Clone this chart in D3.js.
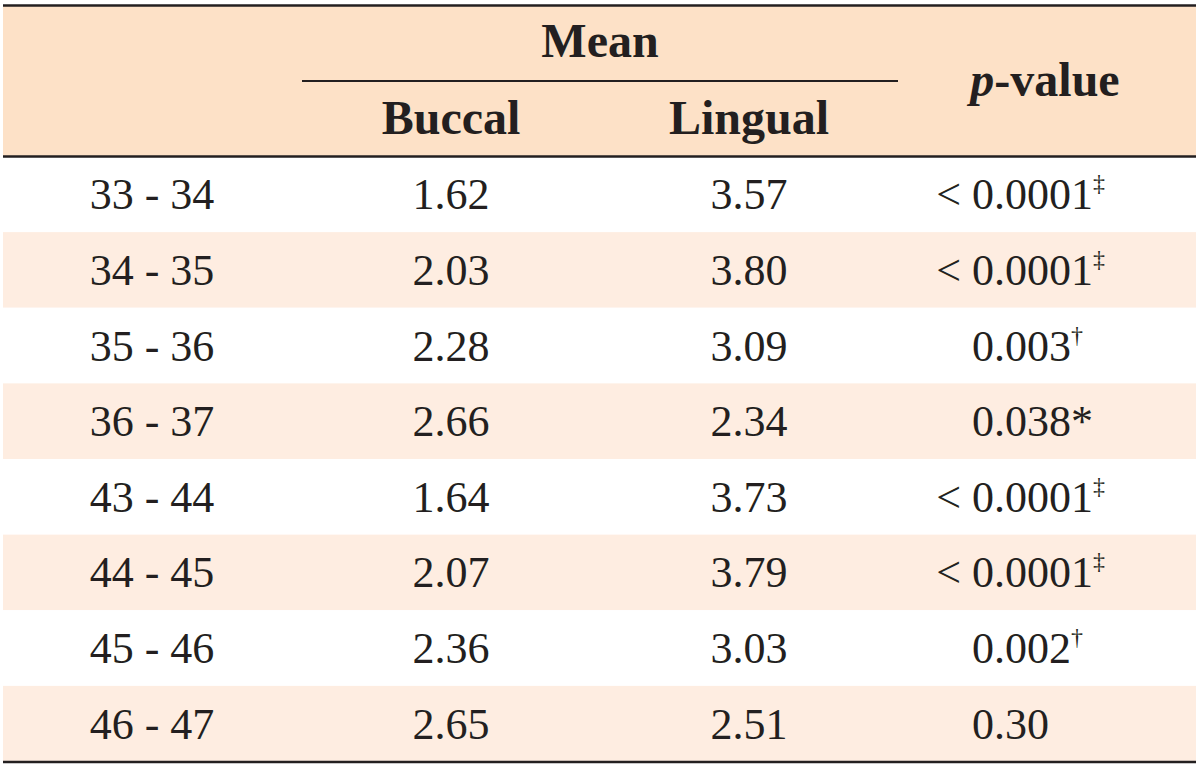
<!DOCTYPE html>
<html>
<head>
<meta charset="utf-8">
<script src="https://cdn.jsdelivr.net/npm/d3@7"></script>
<style>
  html, body { margin: 0; padding: 0; background: #ffffff; }
  svg { display: block; }
  text { font-family: "Liberation Serif", "Times New Roman", serif; fill: #231f20; }
</style>
</head>
<body>
<svg id="chart" width="1200" height="766"></svg>
<script>
// ---- data ----
const pairs   = ["33 - 34", "34 - 35", "35 - 36", "36 - 37", "43 - 44", "44 - 45", "45 - 46", "46 - 47"];
const buccal  = ["1.62", "2.03", "2.28", "2.66", "1.64", "2.07", "2.36", "2.65"];
const lingual = ["3.57", "3.80", "3.09", "2.34", "3.73", "3.79", "3.03", "2.51"];
const pPrefix = ["<", "<", "", "", "<", "<", "", ""];
const pValues = ["0.0001", "0.0001", "0.003", "0.038*", "0.0001", "0.0001", "0.002", "0.30"];
const pMarks  = ["\u2021", "\u2021", "\u2020", "", "\u2021", "\u2021", "\u2020", ""];
const headerGroup = "Mean";
const headerCols  = ["Buccal", "Lingual"];

// ---- layout ----
const left = 3, right = 1196;
const headTop = 5.5, headBottom = 156.5, tableBottom = 762;
const svg = d3.select("#chart");

const y = d3.scaleBand().domain(pairs).range([headBottom, tableBottom - 0.5]);
const colX = d3.scaleOrdinal().domain(["pair", "buccal", "lingual", "p"]).range([152, 451, 749, 972]);

// header background
svg.append("rect").attr("x", left).attr("y", headTop).attr("width", right - left)
   .attr("height", headBottom - headTop).attr("fill", "#fde1c7");

// alternating rows
svg.selectAll("rect.row").data(pairs).join("rect")
   .attr("class", "row")
   .attr("x", left).attr("width", right - left)
   .attr("y", d => y(d)).attr("height", y.bandwidth())
   .attr("fill", (d, i) => i % 2 === 1 ? "#feede1" : "#ffffff");

// rules
const rule = (x1, x2, yy, w) => svg.append("line").attr("x1", x1).attr("x2", x2)
   .attr("y1", yy).attr("y2", yy).attr("stroke", "#231f20").attr("stroke-width", w);
rule(left, right, headTop, 2.6);
rule(left, right, headBottom, 2.6);
rule(left, right, tableBottom, 2.6);
rule(302, 898, 81, 2.2);

// header text
const hfs = 48;
svg.append("text").attr("x", 600).attr("y", 57).attr("text-anchor", "middle")
   .attr("font-size", hfs).attr("font-weight", "bold").text(headerGroup);
svg.selectAll("text.hc").data(headerCols).join("text")
   .attr("class", "hc")
   .attr("x", (d, i) => colX(i === 0 ? "buccal" : "lingual"))
   .attr("y", 134).attr("text-anchor", "middle")
   .attr("font-size", hfs).attr("font-weight", "bold").text(d => d);
const ph = svg.append("text").attr("x", 1045).attr("y", 96).attr("text-anchor", "middle")
   .attr("font-size", hfs).attr("font-weight", "bold");
ph.append("tspan").attr("font-style", "italic").text("p");
ph.append("tspan").text("-value");

// body text
const fs = 44;
const baseY = d => y(d) + y.bandwidth() / 2 + 15;
svg.selectAll("text.pair").data(pairs).join("text")
   .attr("class", "pair").attr("x", colX("pair")).attr("y", d => baseY(d))
   .attr("text-anchor", "middle").attr("font-size", fs).text(d => d);
svg.selectAll("text.bu").data(buccal).join("text")
   .attr("class", "bu").attr("x", colX("buccal")).attr("y", (d, i) => baseY(pairs[i]))
   .attr("text-anchor", "middle").attr("font-size", fs).text(d => d);
svg.selectAll("text.li").data(lingual).join("text")
   .attr("class", "li").attr("x", colX("lingual")).attr("y", (d, i) => baseY(pairs[i]))
   .attr("text-anchor", "middle").attr("font-size", fs).text(d => d);
svg.selectAll("text.pp").data(pPrefix).join("text")
   .attr("class", "pp").attr("x", colX("p") - 11).attr("y", (d, i) => baseY(pairs[i]))
   .attr("text-anchor", "end").attr("font-size", fs).text(d => d);
const pv = svg.selectAll("text.pv").data(pValues).join("text")
   .attr("class", "pv").attr("x", colX("p")).attr("y", (d, i) => baseY(pairs[i]))
   .attr("text-anchor", "start").attr("font-size", fs);
pv.append("tspan").text(d => d);
pv.append("tspan").attr("font-size", 24).attr("dy", -18).text((d, i) => pMarks[i]);
</script>
</body>
</html>
